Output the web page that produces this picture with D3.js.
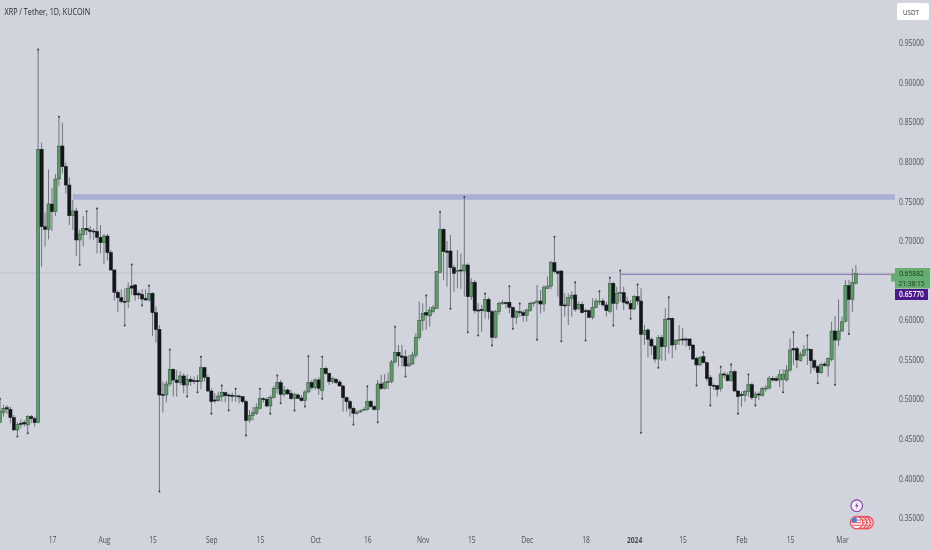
<!DOCTYPE html>
<html><head><meta charset="utf-8">
<script src="https://cdnjs.cloudflare.com/ajax/libs/d3/7.8.5/d3.min.js"></script>
<style>
html,body{margin:0;padding:0;background:#d1d4dc;overflow:hidden}
svg{display:block;filter:blur(.3px)}
text{font-family:"Open Sans",sans-serif}
</style></head><body>
<svg id="c" width="932" height="550"></svg>
<script>
// Each candle: [open, high, low, close]; first candle is 2 Jul 2023, one per day.
const jul = [[.4709,.4999,.4696,.4843],[.4835,.4928,.4780,.4886],[.4894,.4928,.4814,.4877],[.4873,.4907,.4696,.4768],[.4768,.4801,.4603,.4612],[.4612,.4717,.4536,.4683],[.4696,.4747,.4633,.4683],[.4705,.4738,.4654,.4688],[.4675,.4801,.4578,.4780],[.4780,.4801,.4696,.4755],[.4755,.4780,.4654,.4705],[.4705,.9411,.4696,.8157],[.8157,.8241,.6675,.7180],[.7180,.7357,.6928,.7146],[.7146,.7904,.7020,.7466],[.7466,.7664,.7125,.7370],[.7370,.7845,.7315,.7782],[.7782,.8561,.7694,.8199],[.8199,.8494,.7854,.7938],[.7938,.7988,.7601,.7706],[.7706,.7803,.7201,.7319],[.7319,.7517,.7138,.7378],[.7378,.7420,.6810,.7012],[.7012,.7146,.6704,.7087],[.7083,.7315,.6928,.7159],[.7159,.7370,.7075,.7138],[.7138,.7188,.7020,.7121],[.7125,.7159,.7012,.7117],[.7121,.7403,.6843,.7045],[.7045,.7201,.6843,.6978]];
const aug = [[.6978,.7087,.6709,.7062],[.7062,.7087,.6751,.6852],[.6852,.6885,.6620,.6633],[.6633,.6641,.6245,.6351],[.6351,.6380,.6106,.6283],[.6283,.6388,.6212,.6237],[.6237,.6401,.5938,.6229],[.6233,.6473,.6149,.6404],[.6431,.6696,.6317,.6404],[.6443,.6456,.6245,.6317],[.6338,.6372,.6262,.6317],[.6325,.6388,.6191,.6266],[.6275,.6388,.6245,.6254],[.6254,.6431,.6233,.6338],[.6338,.6351,.5799,.6094],[.6094,.6170,.5715,.5883],[.5883,.5938,.3841,.5054],[.5062,.5222,.4831,.5054],[.5054,.5235,.4962,.5193],[.5193,.5622,.5159,.5378],[.5378,.5391,.5033,.5243],[.5243,.5370,.5033,.5210],[.5210,.5349,.5180,.5294],[.5294,.5328,.5075,.5180],[.5180,.5315,.5041,.5252],[.5252,.5285,.5168,.5222],[.5235,.5285,.5193,.5227],[.5235,.5307,.5096,.5227],[.5222,.5530,.5126,.5399],[.5399,.5412,.5222,.5277],[.5277,.5307,.5092,.5104]];
const sep = [[.5104,.5138,.4822,.4970],[.4991,.5075,.4949,.4982],[.4982,.5096,.4970,.5041],[.5033,.5168,.4970,.5088],[.5083,.5096,.4962,.5045],[.5054,.5075,.4864,.5041],[.5050,.5083,.4970,.5037],[.5041,.5126,.4970,.5050],[.5041,.5058,.4949,.5033],[.5033,.5041,.4949,.4970],[.4970,.4991,.4549,.4730],[.4738,.4865,.4705,.4797],[.4797,.4907,.4730,.4831],[.4823,.4949,.4802,.4894],[.4886,.5126,.4873,.5008],[.5008,.5025,.4957,.5000],[.5000,.5025,.4898,.4915],[.4915,.5054,.4823,.5025],[.5025,.5168,.5012,.5138],[.5138,.5294,.5075,.5210],[.5210,.5244,.4957,.5063],[.5063,.5168,.5033,.5117],[.5117,.5138,.5054,.5067],[.5075,.5117,.4991,.5008],[.5008,.5084,.4865,.5058],[.5054,.5075,.5000,.5012],[.5016,.5054,.4970,.4983],[.4983,.5117,.4915,.5092],[.5092,.5538,.5075,.5210],[.5210,.5244,.5117,.5147]];
const oct = [[.5147,.5265,.5117,.5244],[.5244,.5277,.5054,.5138],[.5109,.5530,.5012,.5391],[.5391,.5412,.5307,.5328],[.5328,.5336,.5180,.5223],[.5223,.5286,.5193,.5260],[.5252,.5265,.5193,.5210],[.5218,.5244,.5159,.5168],[.5168,.5180,.4844,.5020],[.5020,.5033,.4844,.4970],[.4970,.4991,.4780,.4886],[.4886,.4907,.4688,.4823],[.4823,.4865,.4802,.4835],[.4844,.4873,.4831,.4852],[.4865,.4898,.4856,.4873],[.4873,.5159,.4856,.4974],[.4974,.4991,.4886,.4907],[.4907,.4928,.4856,.4873],[.4873,.5244,.4717,.5193],[.5193,.5307,.5117,.5138],[.5138,.5319,.5126,.5210],[.5210,.5336,.5126,.5227],[.5223,.5496,.5202,.5471],[.5471,.5909,.5454,.5593],[.5593,.5686,.5412,.5547],[.5547,.5686,.5412,.5530],[.5538,.5622,.5294,.5420],[.5420,.5559,.5412,.5446],[.5446,.5601,.5433,.5559],[.5555,.5833,.5517,.5782],[.5782,.6233,.5749,.5993]];
const nov = [[.5993,.6212,.5867,.6086],[.6094,.6304,.5875,.6064],[.6052,.6169,.5917,.6127],[.6106,.6191,.6085,.6157],[.6148,.6620,.6140,.6612],[.6603,.7361,.6590,.7146],[.7146,.7159,.6506,.6864],[.6873,.7000,.6422,.6856],[.6873,.7075,.6148,.6662],[.6662,.6696,.6359,.6590],[.6616,.6885,.6401,.6628],[.6633,.6843,.6393,.6620],[.6620,.7550,.6296,.6696],[.6696,.6717,.5854,.6296],[.6296,.6527,.6254,.6477],[.6477,.6506,.6085,.6119],[.6127,.6212,.5812,.6115],[.6136,.6191,.5854,.6119],[.6115,.6329,.6022,.6262],[.6262,.6287,.6009,.6106],[.6106,.6127,.5685,.5782],[.5782,.6127,.5770,.6106],[.6106,.6233,.6064,.6212],[.6207,.6254,.6191,.6220],[.6220,.6233,.6148,.6212],[.6224,.6422,.6085,.6161],[.6161,.6169,.5896,.6035],[.6035,.6127,.5951,.6106],[.6106,.6203,.6043,.6094],[.6094,.6127,.5980,.6060]];
const dec = [[.6060,.6148,.5980,.6127],[.6119,.6233,.6106,.6212],[.6212,.6233,.6169,.6224],[.6220,.6443,.5757,.6241],[.6241,.6380,.6085,.6203],[.6203,.6443,.6106,.6409],[.6401,.6548,.6393,.6430],[.6430,.6750,.6388,.6725],[.6725,.7045,.6590,.6612],[.6612,.6633,.6296,.6590],[.6620,.6633,.5740,.6182],[.6191,.6338,.6043,.6182],[.6182,.6338,.5938,.6283],[.6275,.6359,.6043,.6308],[.6317,.6473,.6106,.6136],[.6148,.6233,.6127,.6199],[.6199,.6233,.6085,.6094],[.6119,.6148,.5748,.6106],[.6119,.6136,.6022,.6035],[.6035,.6275,.6009,.6161],[.6161,.6275,.6148,.6241],[.6228,.6359,.6191,.6241],[.6241,.6275,.6169,.6191],[.6191,.6233,.6043,.6119],[.6106,.6527,.6085,.6464],[.6464,.6485,.5938,.6211],[.6211,.6422,.6127,.6338],[.6338,.6620,.6232,.6350],[.6346,.6422,.6127,.6224],[.6232,.6296,.6190,.6211],[.6211,.6253,.6022,.6140]];
const jan = [[.6140,.6317,.6127,.6296],[.6296,.6443,.6190,.6241],[.6241,.6401,.4582,.5820],[.5820,.5938,.5685,.5870],[.5875,.5896,.5529,.5757],[.5757,.5782,.5559,.5673],[.5673,.5685,.5462,.5508],[.5508,.5811,.5403,.5778],[.5778,.5811,.5487,.5664],[.5664,.6148,.5487,.6009],[.6022,.6283,.5580,.6009],[.6022,.6030,.5517,.5685],[.5694,.5757,.5622,.5740],[.5740,.5938,.5685,.5757],[.5761,.5896,.5685,.5748],[.5761,.5782,.5664,.5752],[.5761,.5769,.5622,.5677],[.5685,.5694,.5496,.5508],[.5517,.5538,.5180,.5433],[.5433,.5546,.5420,.5529],[.5538,.5588,.5454,.5462],[.5462,.5475,.5222,.5260],[.5273,.5306,.4927,.5172],[.5176,.5201,.5117,.5167],[.5172,.5180,.5033,.5125],[.5134,.5403,.5096,.5319],[.5319,.5348,.5264,.5306],[.5306,.5336,.5222,.5235],[.5235,.5433,.5222,.5348],[.5348,.5369,.5096,.5104],[.5104,.5117,.4822,.5033]];
const feb = [[.5062,.5096,.4906,.5049],[.5049,.5117,.4969,.5100],[.5096,.5306,.5033,.5184],[.5184,.5209,.4990,.5020],[.5020,.5096,.4927,.5066],[.5066,.5096,.4990,.5054],[.5049,.5159,.5033,.5134],[.5129,.5180,.5096,.5142],[.5142,.5294,.5125,.5264],[.5264,.5294,.5222,.5243],[.5260,.5294,.5222,.5239],[.5243,.5378,.5150,.5310],[.5251,.5378,.5096,.5310],[.5243,.5433,.5222,.5369],[.5369,.5769,.5348,.5622],[.5639,.5841,.5433,.5622],[.5639,.5664,.5390,.5496],[.5487,.5601,.5475,.5563],[.5555,.5685,.5538,.5622],[.5622,.5799,.5433,.5635],[.5630,.5643,.5327,.5487],[.5487,.5504,.5369,.5403],[.5411,.5433,.5209,.5336],[.5336,.5462,.5319,.5441],[.5445,.5475,.5411,.5428],[.5420,.5529,.5285,.5513],[.5504,.5980,.5475,.5862],[.5862,.6051,.5188,.5748],[.5748,.6262,.5673,.5862]];
const mar = [[.5862,.6043,.5854,.5978],[.5985,.6506,.5969,.6435],[.6435,.6506,.5832,.6262],[.6262,.6653,.6106,.6477],[.6464,.6696,.6451,.6588]];

const firstDay = "2023-07-02";
const tickDates = ["2023-07-17","2023-08-01","2023-08-15","2023-09-01","2023-09-15","2023-10-01","2023-10-16","2023-11-01","2023-11-15","2023-12-01","2023-12-18","2024-01-01","2024-01-15","2024-02-01","2024-02-15","2024-03-01"];
const tickLabels = ["17","Aug","15","Sep","15","Oct","16","Nov","15","Dec","18","2024","15","Feb","15","Mar"];
const priceTicks = [.95,.90,.85,.80,.75,.70,.60,.55,.50,.45,.40,.35];
const fractalHighs = ["2023-07-02","2023-07-13","2023-07-19","2023-07-27","2023-07-30","2023-08-09","2023-08-14","2023-08-20","2023-08-29","2023-09-04","2023-09-08","2023-09-15","2023-09-20","2023-09-29","2023-10-03","2023-10-16","2023-10-24","2023-11-02","2023-11-06","2023-11-13","2023-11-19","2023-11-26","2023-11-29","2023-12-09","2023-12-15","2023-12-22","2023-12-25","2023-12-28","2024-01-02","2024-01-11","2024-01-21","2024-01-26","2024-01-29","2024-02-03","2024-02-16","2024-02-20"];
const fractalLows = ["2023-07-07","2023-07-10","2023-07-25","2023-08-07","2023-08-12","2023-08-17","2023-08-25","2023-08-28","2023-09-01","2023-09-06","2023-09-11","2023-09-18","2023-09-21","2023-09-25","2023-09-28","2023-10-03","2023-10-12","2023-10-19","2023-10-27","2023-11-09","2023-11-14","2023-11-17","2023-11-21","2023-11-27","2023-12-04","2023-12-11","2023-12-18","2023-12-26","2023-12-31","2024-01-03","2024-01-08","2024-01-19","2024-01-23","2024-01-31","2024-02-05","2024-02-13","2024-02-23","2024-02-28","2024-03-03"];
const lastPrice = 0.65882, markedPrice = 0.65770;
const zoneTop = 0.7590, zoneBottom = 0.7520, zoneStart = "2023-07-23", levelStart = "2023-12-28";
const title = "XRP / Tether, 1D, KUCOIN", currency = "USDT", countdown = "21:38:15";

const day = s => new Date(s + "T00:00:00Z");
const candles = [...jul,...aug,...sep,...oct,...nov,...dec,...jan,...feb,...mar].map((v,i)=>({
  date:d3.utcDay.offset(day(firstDay),i),o:v[0],h:v[1],l:v[2],c:v[3]}));
const byDate = new Map(candles.map(d=>[+d.date,d]));

const x = d3.scaleUtc().domain([day("2023-07-17"),day("2024-03-01")]).range([52,842]);
const y = d3.scaleLinear().domain([.35,.95]).range([518,43]);
const paneRight = 895;
const svg = d3.select("#c");
svg.append("rect").attr("width",932).attr("height",550).attr("fill","#d1d4dc");

// last price hairline
svg.append("line").attr("x1",0).attr("x2",paneRight).attr("y1",y(lastPrice)-.5).attr("y2",y(lastPrice)-.5).attr("stroke","#bcbfc6").attr("stroke-width",.8);
// supply zone
svg.append("rect").attr("x",x(day(zoneStart))).attr("width",paneRight-x(day(zoneStart))).attr("y",y(zoneTop)).attr("height",y(zoneBottom)-y(zoneTop)).attr("fill","#a7afd5");
// marked level
svg.append("line").attr("x1",x(day(levelStart))).attr("x2",paneRight).attr("y1",y(markedPrice)).attr("y2",y(markedPrice)).attr("stroke","#8f7fb5").attr("stroke-width",1.4);

const g = svg.append("g");
g.selectAll("line.w").data(candles).join("line").attr("class","w")
 .attr("x1",d=>x(d.date)).attr("x2",d=>x(d.date)).attr("y1",d=>y(d.h)).attr("y2",d=>y(d.l))
 .attr("stroke","#6f737c").attr("stroke-width",1);
g.selectAll("rect.b").data(candles).join("rect").attr("class","b")
 .attr("x",d=>x(d.date)-1.6).attr("width",3.2)
 .attr("y",d=>y(Math.max(d.o,d.c))).attr("height",d=>Math.max(1,Math.abs(y(d.o)-y(d.c))))
 .attr("fill",d=>d.c>=d.o?"#5d9b69":"#14161c")
 .attr("stroke",d=>d.c>=d.o?"#2f4a37":"#14161c").attr("stroke-width",.5);

const dots = g.append("g").attr("fill","#3a3d44");
fractalHighs.forEach(s=>{const d=byDate.get(+day(s));dots.append("circle").attr("cx",x(d.date)).attr("cy",y(d.h)-.5).attr("r",1);});
fractalLows.forEach(s=>{const d=byDate.get(+day(s));dots.append("circle").attr("cx",x(d.date)).attr("cy",y(d.l)+.5).attr("r",1);});

// all labels in the reference are set in a narrow face: condense the installed one
const narrow = (sel,k=.79) => sel.each(function(){
  const n=this.getComputedTextLength();
  d3.select(this).attr("textLength",n*k).attr("lengthAdjust","spacingAndGlyphs");
});
const font = "'Open Sans',sans-serif";

// axes
const ax = svg.append("g").attr("transform","translate(0,540)")
 .call(d3.axisBottom(x).tickValues(tickDates.map(day)).tickSize(0).tickFormat((d,i)=>tickLabels[i]));
ax.select(".domain").remove();
ax.selectAll("text").attr("y",0).attr("dy",".35em").attr("fill","#4a4d55").style("font-size","8.5px").style("font-family",font)
 .style("font-weight",(d,i)=>tickLabels[i]==="2024"?"700":"400").call(narrow);
const ay = svg.append("g").attr("transform","translate(911.5,0)")
 .call(d3.axisRight(y).tickValues(priceTicks).tickSize(0).tickFormat(d3.format(".5f")));
ay.select(".domain").remove();
ay.selectAll("text").attr("x",0).attr("text-anchor","middle").attr("fill","#4a4d55").style("font-size","8.5px").style("font-family",font).call(narrow);

// title and unit button
svg.append("text").attr("x",4.5).attr("y",14.5).attr("fill","#1e222d").style("font-size","9.5px").text(title).call(narrow,.76);
svg.append("rect").attr("x",897).attr("y",3).attr("width",32).attr("height",17).attr("rx",2).attr("fill","#fff");
svg.append("text").attr("x",911).attr("y",14.5).attr("text-anchor","middle").attr("fill","#333").style("font-size","8px").text(currency).call(narrow);

// price labels
const ly = y(lastPrice);
svg.append("rect").attr("x",891).attr("y",ly).attr("width",5).attr("height",8).attr("fill","#66ad72");
svg.append("rect").attr("x",895).attr("y",ly-5.5).attr("width",35).attr("height",20.5).attr("fill","#66ad72");
svg.append("text").attr("x",911.5).attr("y",ly).attr("dy",".35em").attr("text-anchor","middle").attr("fill","#16301b").style("font-size","7.5px").text(d3.format(".5f")(lastPrice)).call(narrow,.88);
svg.append("text").attr("x",911.5).attr("y",ly+10).attr("dy",".35em").attr("text-anchor","middle").attr("fill","#16301b").style("font-size","7.5px").text(countdown).call(narrow,.88);
svg.append("rect").attr("x",895).attr("y",289).attr("width",33).attr("height",11).attr("fill","#4a1a8c");
svg.append("text").attr("x",911.5).attr("y",294.5).attr("dy",".35em").attr("text-anchor","middle").attr("fill","#fff").style("font-size","8.5px").style("font-weight","600").text(d3.format(".5f")(markedPrice)).call(narrow);

// event icons
const icons = svg.append("g");
[867,864,860.5,856.7].forEach((cx,i)=>{
  icons.append("circle").attr("cx",cx).attr("cy",522.7).attr("r",6.2).attr("fill","#f7f7f9").attr("stroke","#ef4d55").attr("stroke-width",1.3);
  [-2.6,0,2.6].forEach(o=>icons.append("line").attr("x1",cx-4.5).attr("x2",cx+4.5).attr("y1",522.7+o).attr("y2",522.7+o).attr("stroke","#ef4d55").attr("stroke-width",1));
});
icons.append("path").attr("d",d3.arc()({innerRadius:0,outerRadius:5.4,startAngle:-Math.PI/2,endAngle:0})).attr("transform","translate(856.7,522.2)").attr("fill","#4f7fd6");
icons.append("circle").attr("cx",856.7).attr("cy",505.7).attr("r",5.8).attr("fill","#f4f2f8").attr("stroke","#8e3fb0").attr("stroke-width",1.2);
icons.append("path").attr("d","M857.9 501.6 L855 506.3 L856.8 506.3 L855.6 509.8 L858.6 505 L856.8 505 Z").attr("fill","#8e3fb0");
</script>
</body></html>
